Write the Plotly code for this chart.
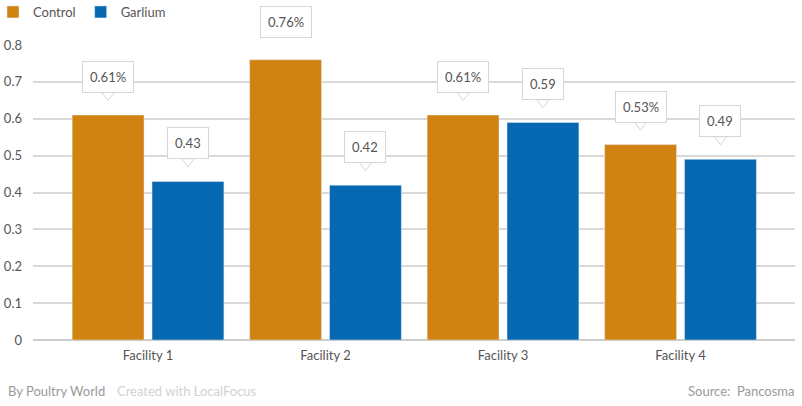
import plotly.graph_objects as go

categories = ["Facility 1", "Facility 2", "Facility 3", "Facility 4"]
control = [0.61, 0.76, 0.61, 0.53]
garlium = [0.43, 0.42, 0.59, 0.49]
control_labels = ["0.61%", "0.76%", "0.61%", "0.53%"]
garlium_labels = ["0.43", "0.42", "0.59", "0.49"]
yticks = [0, 0.1, 0.2, 0.3, 0.4, 0.5, 0.6, 0.7, 0.8]

ORANGE = "#D18312"
BLUE = "#0568B0"
FONT = "Lato"

xpos = list(range(len(categories)))
bar_w = 0.405
gap = 0.045
offs = [-(bar_w + gap) / 2, (bar_w + gap) / 2]

fig = go.Figure()
fig.add_bar(name="Control", x=xpos, y=control, marker_color=ORANGE,
            width=bar_w, offset=offs[0] - bar_w / 2, hoverinfo="skip")
fig.add_bar(name="Garlium", x=xpos, y=garlium, marker_color=BLUE,
            width=bar_w, offset=offs[1] - bar_w / 2, hoverinfo="skip")

px_per_unit = 0.8 / 295.0
tail_x = []
tail_y = []
for i in xpos:
    for vals, labels, o in ((control, control_labels, offs[0]), (garlium, garlium_labels, offs[1])):
        fig.add_annotation(
            x=i + o, y=vals[i], xref="x", yref="y", text=labels[i],
            showarrow=False, yanchor="bottom", yshift=22,
            font=dict(family=FONT, size=13, color="#555555"),
            bgcolor="white", bordercolor="#D6D6D6", borderwidth=1, borderpad=7,
        )
        tail_x.append(i + o)
        tail_y.append(vals[i] + 20 * px_per_unit)

fig.add_scatter(x=tail_x, y=tail_y, mode="markers", showlegend=False, hoverinfo="skip",
                cliponaxis=False,
                marker=dict(symbol="triangle-down", size=11, color="white",
                            line=dict(color="#D6D6D6", width=1)))

fig.add_annotation(x=0, y=0, xref="paper", yref="paper", xanchor="left", yanchor="middle",
                   text="By Poultry World", showarrow=False, xshift=-27, yshift=-51,
                   font=dict(family=FONT, size=13, color="#9A9A9A"))
fig.add_annotation(x=0, y=0, xref="paper", yref="paper", xanchor="left", yanchor="middle",
                   text="Created with LocalFocus", showarrow=False, xshift=82, yshift=-51,
                   font=dict(family=FONT, size=13, color="#D2D2D2"))
fig.add_annotation(x=1, y=0, xref="paper", yref="paper", xanchor="right", yanchor="middle",
                   text="Source:  Pancosma", showarrow=False, xshift=2, yshift=-51,
                   font=dict(family=FONT, size=13, color="#9A9A9A"))

fig.update_layout(
    width=802, height=406,
    margin=dict(l=33, r=7, t=45, b=66, autoexpand=False),
    plot_bgcolor="white", paper_bgcolor="white",
    font=dict(family=FONT, size=13, color="#555555"),
    legend=dict(orientation="h", x=-40 / 762, y=1 + 33 / 295, xanchor="left", yanchor="middle",
                font=dict(family=FONT, size=13, color="#555555"),
                itemwidth=30, traceorder="normal"),
    xaxis=dict(range=[-0.648, 3.645], tickvals=xpos, ticktext=categories, showgrid=False,
               zeroline=False, showline=False, ticks="", ticklabelstandoff=6,
               tickfont=dict(size=13, color="#555555")),
    yaxis=dict(range=[0, 0.8], tickvals=yticks, ticktext=[str(v) for v in yticks],
               showgrid=True, gridcolor="#D9D9D9", gridwidth=1.5,
               zeroline=True, zerolinecolor="#CCCCCC", zerolinewidth=2,
               showline=False, ticks="", ticklabelstandoff=10,
               tickfont=dict(size=13, color="#555555")),
)

fig.write_html("out.html", config={"displayModeBar": False},
               post_script="document.body.style.margin='0';")
